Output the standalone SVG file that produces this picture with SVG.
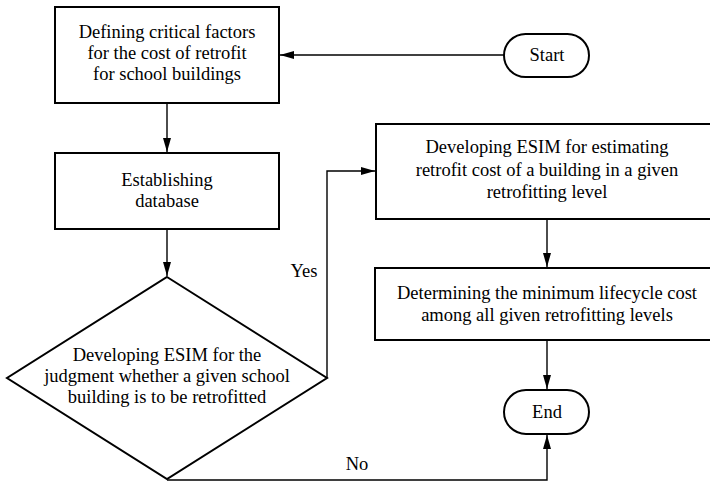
<svg xmlns="http://www.w3.org/2000/svg" width="710" height="482" viewBox="0 0 710 482">
<style>
.box{fill:#fff;stroke:#000;stroke-width:2}
.t{font-family:'Liberation Serif','Times New Roman','DejaVu Serif',serif;font-size:18.5px;fill:#000;text-anchor:middle}
.c{fill:none;stroke:#000;stroke-width:1.4}
</style>
<defs>
<marker id="ah" markerWidth="14" markerHeight="8" refX="14" refY="4" orient="auto" markerUnits="userSpaceOnUse">
<path d="M0,0 L14,4 L0,8 Z" fill="#000"/>
</marker>
</defs>
<rect width="710" height="482" fill="#fff"/>
<g id="connectors">
<path class="c" d="M504,55 H280" marker-end="url(#ah)"/>
<path class="c" d="M167,103 V152" marker-end="url(#ah)"/>
<path class="c" d="M167,229 V276" marker-end="url(#ah)"/>
<path class="c" d="M327,378 V171 H375" marker-end="url(#ah)"/>
<path class="c" d="M547,219 V267" marker-end="url(#ah)"/>
<path class="c" d="M547,340 V389" marker-end="url(#ah)"/>
<path class="c" d="M167,480 H547 V435" marker-end="url(#ah)"/>
<text class="t" x="304" y="277">Yes</text>
<text class="t" x="357" y="470">No</text>
</g>
<g id="start">
<rect class="box" x="504" y="34" width="85" height="43" rx="21.5"/>
<text class="t" x="547" y="61">Start</text>
</g>
<g id="define">
<rect class="box" x="55" y="7" width="224" height="96"/>
<text class="t" x="167" y="38">Defining critical factors</text>
<text class="t" x="167" y="59">for the cost of retrofit</text>
<text class="t" x="167" y="80">for school buildings</text>
</g>
<g id="database">
<rect class="box" x="55" y="153" width="224" height="76"/>
<text class="t" x="167" y="186">Establishing</text>
<text class="t" x="167" y="207">database</text>
</g>
<g id="judgment">
<path class="box" d="M167,277 L327,378 L167,479 L7,378 Z"/>
<text class="t" x="167" y="361">Developing ESIM for the</text>
<text class="t" x="167" y="382">judgment whether a given school</text>
<text class="t" x="167" y="403">building is to be retrofitted</text>
</g>
<g id="estimate">
<rect class="box" x="376" y="124" width="342" height="95"/>
<text class="t" x="547" y="153">Developing ESIM for estimating</text>
<text class="t" x="547" y="176">retrofit cost of a building in a given</text>
<text class="t" x="547" y="198">retrofitting level</text>
</g>
<g id="minimum">
<rect class="box" x="375" y="268" width="343" height="72"/>
<text class="t" x="547" y="299">Determining the minimum lifecycle cost</text>
<text class="t" x="547" y="321">among all given retrofitting levels</text>
</g>
<g id="end">
<rect class="box" x="504" y="390" width="85" height="44" rx="22"/>
<text class="t" x="547" y="418">End</text>
</g>
</svg>
